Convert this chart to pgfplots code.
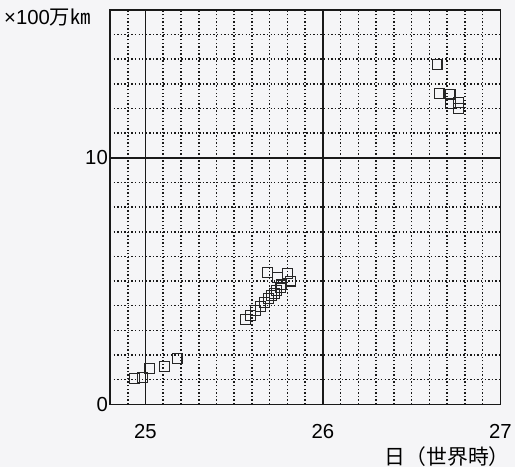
\documentclass[border=0pt]{standalone}
\usepackage{fontspec}
\setmainfont{Liberation Sans}
\newfontfamily\jp{Noto Sans CJK JP}
\usepackage{pgfplots}
\pgfplotsset{compat=1.18}
\usetikzlibrary{backgrounds}
\definecolor{bg}{RGB}{245,245,247}
\pgfplotstableread{
x y
24.94 1.03
24.985 1.09
25.023 1.45
25.107 1.52
25.178 1.85
}\lowcluster
\pgfplotstableread{
x y
25.564 3.44
25.592 3.60
25.620 3.80
25.648 3.96
25.671 4.12
25.693 4.28
25.710 4.40
25.727 4.48
25.738 4.60
25.760 4.72
25.766 4.84
25.817 5.00
25.744 5.16
25.800 5.32
25.688 5.36
}\midcluster
\pgfplotstableread{
x y
26.643 13.80
26.654 12.60
26.716 12.56
26.720 12.20
26.766 12.24
26.766 12.00
}\highcluster
\begin{document}
\begin{tikzpicture}[show background rectangle, background rectangle/.style={fill=bg, draw=none}, inner frame sep=0pt]
\begin{axis}[
  scale only axis, width=394pt, height=398pt,
  xmin=24.8, xmax=27, ymin=0, ymax=16,
  xtick={25,26,27}, ytick={0,10},
  minor xtick={24.9,25.1,25.2,25.3,25.4,25.5,25.6,25.7,25.8,25.9,26.1,26.2,26.3,26.4,26.5,26.6,26.7,26.8,26.9},
  minor ytick={1,2,3,4,5,6,7,8,9,11,12,13,14,15},
  grid=both,
  major grid style={black!90, line width=1.5pt, solid},
  minor grid style={black!90, line width=1.6pt, dash pattern=on 1.4pt off 2.2pt},
  major tick length=0pt, minor tick length=0pt,
  axis line style={line width=1.5pt, black!90},
  tick label style={font=\fontsize{20.5}{24}\selectfont, /pgf/number format/assume math mode=true},
  xticklabel style={yshift=-17pt},
  yticklabel style={inner sep=1pt, xshift=-1pt},
  axis background/.style={fill=bg},
]
\addplot[only marks, mark=square, mark size=5pt, mark options={line width=1.1pt, draw=black!85}] table[x=x,y=y] {\lowcluster};
\addplot[only marks, mark=square, mark size=5pt, mark options={line width=1.1pt, draw=black!85}] table[x=x,y=y] {\midcluster};
\addplot[only marks, mark=square, mark size=5pt, mark options={line width=1.1pt, draw=black!85}] table[x=x,y=y] {\highcluster};
\end{axis}
\node[anchor=west, inner sep=0pt, font=\fontsize{20.5}{24}\selectfont] at ([xshift=-107pt,yshift=-8pt]current axis.north west) {×100{\jp 万㎞}};
\node[anchor=east, inner sep=0pt, font=\jp\fontsize{21}{24}\selectfont] at ([xshift=9.5pt,yshift=-53pt]current axis.south east) {日（世界時）};
\path ([shift={(-111pt,-62pt)}]current axis.south west) rectangle ([shift={(10pt,10pt)}]current axis.north east);
\end{tikzpicture}
\end{document}
